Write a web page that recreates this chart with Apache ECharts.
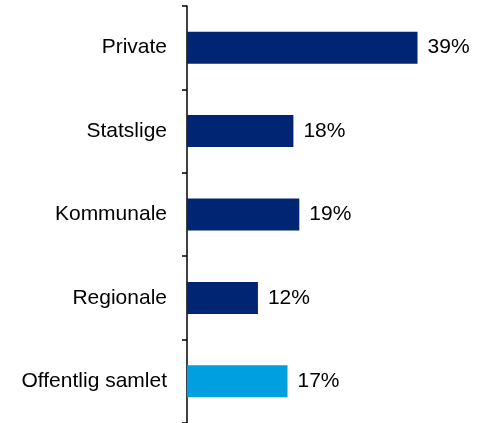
<!DOCTYPE html>
<html>
<head>
<meta charset="utf-8">
<script src="https://cdn.jsdelivr.net/npm/echarts@6/dist/echarts.min.js"></script>
<style>
html, body { margin: 0; padding: 0; background: #fff; }
#main { width: 477px; height: 423px; }
</style>
</head>
<body>
<div id="main"></div>
<script>
var categories = ['Private', 'Statslige', 'Kommunale', 'Regionale', 'Offentlig samlet'];
var values = [39, 18, 19, 12, 17];
var barColors = ['#002673', '#002673', '#002673', '#002673', '#00a0e0'];

var myChart = echarts.init(document.getElementById('main'));
var option = {
    animation: false,
    grid: { left: 187, right: 24, top: 6, bottom: 0, containLabel: false },
    xAxis: {
        type: 'value',
        min: 0,
        max: 45,
        show: false
    },
    yAxis: {
        type: 'category',
        inverse: true,
        data: categories,
        axisLine: { show: true, lineStyle: { color: '#000', width: 1.5 } },
        axisTick: { show: true, inside: false, length: 5, lineStyle: { color: '#000', width: 1.5 } },
        axisLabel: {
            color: '#000',
            fontSize: 21,
            fontFamily: 'Liberation Sans, Arial, sans-serif',
            margin: 20
        }
    },
    series: [{
        type: 'bar',
        data: values.map(function (v, i) {
            return { value: v, itemStyle: { color: barColors[i] } };
        }),
        barWidth: 32,
        label: {
            show: true,
            position: 'right',
            distance: 10,
            formatter: '{c}%',
            color: '#000',
            fontSize: 21,
            fontFamily: 'Liberation Sans, Arial, sans-serif'
        }
    }]
};
myChart.setOption(option);
</script>
</body>
</html>
